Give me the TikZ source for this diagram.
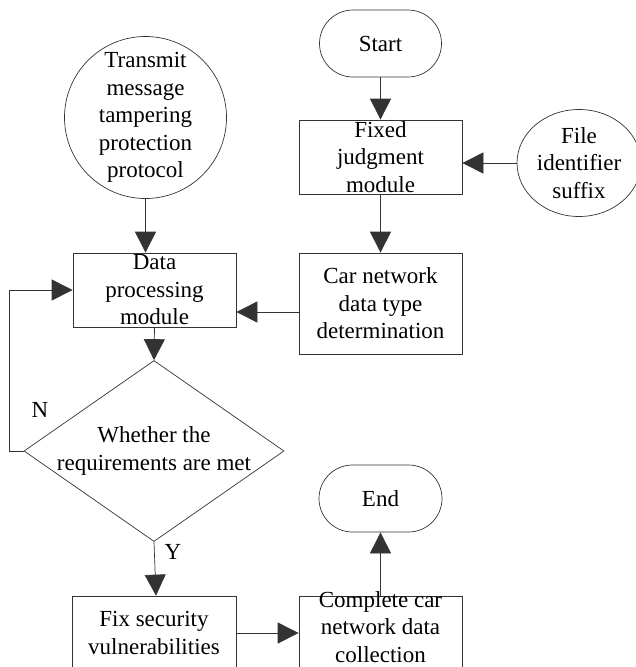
\documentclass[tikz,border=0pt]{standalone}
\usepackage{fontspec}
\setmainfont{Liberation Serif}
\usetikzlibrary{arrows.meta,shapes.geometric,shapes.misc}
\begin{document}
\begin{tikzpicture}[x=1pt,y=-1pt,
  every node/.style={font=\fontsize{23}{27.5}\selectfont},
  ln/.style={line width=0.7pt,draw=black!80},
  arr/.style={ln,-{Triangle[length=21pt,width=21pt]}},
  txt/.style={align=center,inner sep=0pt},
  box/.style={ln,rectangle,minimum width=163,minimum height=74,inner sep=0pt},
  term/.style={ln,rounded rectangle,minimum width=122,minimum height=67,inner sep=0pt},
]
\useasboundingbox (0,0) rectangle (635,667);
% nodes
\node[term] (start) at (380.5,43.5) {Start};
\node[ln,circle,minimum size=162,inner sep=0pt,
  label={[txt]center:{Transmit\\message\\tampering\\protection\\protocol}}] (trans) at (145.5,117.5) {};
\node[box,label={[txt]center:{Fixed\\judgment\\module}}] (fj) at (380.5,157) {};
\node[ln,ellipse,minimum width=124,minimum height=107,inner sep=0pt,
  label={[txt]center:{File\\identifier\\suffix}}] (file) at (579,163) {};
\node[box,minimum height=101,label={[txt]center:{Car network\\data type\\determination}}] (car) at (380.5,303.5) {};
\node[box,label={[txt]center:{Data\\processing\\module}}] (dp) at (154.5,290) {};
\node[ln,diamond,minimum width=260,minimum height=181,inner sep=0pt,
  label={[txt]center:{Whether the\\requirements are met}}] (dia) at (154,451) {};
\node[term,minimum width=123] (end) at (380.5,498.5) {End};
\node[box,minimum width=164,label={[txt]center:{Fix security\\vulnerabilities}}] (fix) at (154,633) {};
\node[box,label={[txt,yshift=6pt]center:{Complete car\\network data\\collection}}] (comp) at (380.5,633) {};
\node (nl) at (40,410) {N};
\node (yl) at (173,552) {Y};
% connectors
\coordinate (lp) at (9,451);
\coordinate (c1) at ([yshift=-8.5pt]car.west);
\draw[arr] (start.south) -- (fj.north);
\draw[arr] (fj.south) -- (car.north);
\draw[arr] (file.west) -- (file.west -| fj.east);
\draw[arr] (trans.south) -- (trans.south |- dp.north);
\draw[arr] (c1) -- (c1 -| dp.east);
\draw[arr] (dp.south) -- (dia.north);
\draw[arr] (dia.west) -- (lp) |- (dp.west);
\draw[arr] (dia.south) -- ([xshift=2pt]fix.north);
\draw[arr] (fix.east) -- (comp.west);
\draw[arr] (comp.north) -- (end.south);
\end{tikzpicture}
\end{document}
